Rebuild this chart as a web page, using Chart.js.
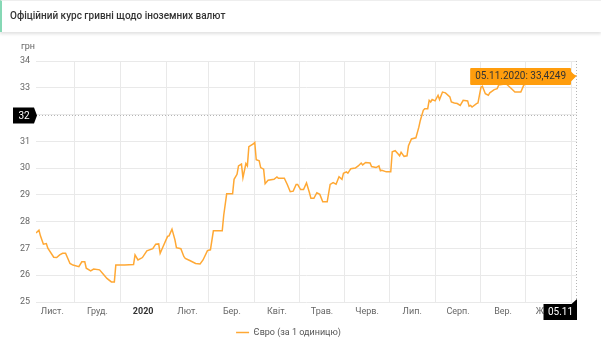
<!DOCTYPE html>
<html lang="uk">
<head>
  <meta charset="UTF-8">
  <title>Офіційний курс гривні щодо іноземних валют</title>
  <script src="https://cdn.jsdelivr.net/npm/chart.js"></script>
  <style>
    body {
      margin: 0;
      width: 601px;
      height: 350px;
      background: #fff;
      font-family: 'Roboto', sans-serif;
      position: relative;
      overflow: hidden;
    }
    .header {
      position: absolute;
      top: 0;
      left: 0;
      width: 599px;
      height: 31px;
      border-left: 2px solid #86d8b5;
      border-top: 1px solid #eee;
      box-shadow: 0 2px 3px rgba(0, 0, 0, 0.12);
      background: #fff;
      z-index: 2;
    }
    .header h1 {
      margin: 0;
      padding: 9px 0 0 8px;
      font-size: 10px;
      font-weight: 500;
      color: #333;
    }
    #rateChart {
      position: absolute;
      top: 0;
      left: 0;
    }
  </style>
</head>
<body>
  <div class="header"><h1>Офіційний курс гривні щодо іноземних валют</h1></div>
  <canvas id="rateChart" width="601" height="350"></canvas>

  <script>
    // дні від 05.11.2019 і курс євро
    const days = [0, 2, 3, 5, 7, 8, 12, 14, 16, 18, 20, 23, 25, 29, 31, 33, 34, 37, 39, 43,
      46, 48, 51, 53, 54, 60, 66, 67, 69, 72, 75, 79, 81, 83, 84, 86, 89, 90, 92, 94,
      95, 98, 100, 101, 104, 108, 111, 113, 116, 118, 120, 126, 127, 129, 133, 134, 136, 137, 139, 140,
      142, 143, 144, 147, 148, 149, 151, 152, 154, 155, 157, 161, 163, 164, 168, 170, 172, 174, 176, 177,
      179, 181, 183, 185, 186, 188, 190, 192, 194, 197, 199, 201, 203, 205, 207, 208, 210, 211, 213, 216,
      218, 220, 221, 223, 226, 227, 230, 232, 233, 234, 237, 240, 241, 243, 245, 246, 247, 249, 251, 252,
      254, 257, 259, 260, 262, 263, 265, 266, 267, 268, 270, 272, 273, 275, 277, 280, 281, 283, 285, 287,
      289, 292, 293, 294, 295, 298, 299, 301, 302, 304, 306, 307, 310, 312, 313, 318, 321, 324, 328, 330,
      335, 342, 348, 355, 362, 366];
    const rates = [27.58, 27.68, 27.47, 27.16, 27.18, 27.01, 26.67, 26.66, 26.76, 26.82, 26.82, 26.44, 26.38, 26.32, 26.5, 26.5, 26.26, 26.16, 26.23, 26.2,
      26.01, 25.88, 25.75, 25.75, 26.38, 26.38, 26.4, 26.76, 26.57, 26.66, 26.91, 26.99, 27.16, 27.17, 26.82, 27.07, 27.45, 27.47, 27.72, 27.32,
      27.03, 26.99, 26.7, 26.63, 26.55, 26.44, 26.42, 26.57, 26.92, 26.95, 27.66, 27.66, 28.24, 29.04, 29.04, 29.58, 29.77, 30.08, 30.15, 29.64,
      30.17, 30.08, 30.8, 30.9, 30.96, 30.31, 30.27, 30.02, 29.96, 29.42, 29.55, 29.58, 29.67, 29.62, 29.62, 29.39, 29.12, 29.14, 29.39, 29.39,
      29.2, 29.2, 29.45, 29.08, 28.87, 28.87, 29.08, 29.02, 28.74, 28.74, 29.39, 29.46, 29.4, 29.68, 29.58, 29.81, 29.86, 29.81, 29.98, 30.0,
      30.08, 30.19, 30.12, 30.21, 30.19, 30.06, 30.02, 30.08, 29.9, 29.92, 29.86, 29.86, 30.61, 30.65, 30.53, 30.46, 30.59, 30.44, 30.46, 30.84,
      31.09, 31.13, 31.53, 31.78, 32.16, 32.22, 32.22, 32.53, 32.47, 32.56, 32.51, 32.72, 32.56, 32.84, 32.81, 32.66, 32.47, 32.43, 32.41, 32.34,
      32.53, 32.51, 32.31, 32.34, 32.28, 32.41, 32.43, 33.01, 33.06, 32.78, 32.72, 32.81, 32.93, 32.97, 33.1, 33.15, 33.0, 32.84, 32.84, 33.1,
      33.3, 33.45, 33.5, 33.55, 33.5, 33.4249];

    // межі місяців (дні від 05.11.2019) і підписи місяців
    const monthStarts = [-4, 26, 57, 88, 117, 148, 178, 209, 239, 270, 301, 331, 362, 392];
    const monthLabels = ['Лист.', 'Груд.', '2020', 'Лют.', 'Бер.', 'Квіт.', 'Трав.', 'Черв.', 'Лип.', 'Серп.', 'Вер.', 'Жовт.'];
    const yMin = 25;
    const yMax = 34;
    const crossValue = 32;
    const startDate = new Date(2019, 10, 5);

    const labelPos = monthLabels.map((l, i) => (monthStarts[i] + monthStarts[i + 1]) / 2);
    const lastDay = days[days.length - 1];

    function fmtDate(d, withYear) {
      const dt = new Date(startDate.getFullYear(), startDate.getMonth(), startDate.getDate() + d);
      const dd = String(dt.getDate()).padStart(2, '0');
      const mm = String(dt.getMonth() + 1).padStart(2, '0');
      return withYear ? dd + '.' + mm + '.' + dt.getFullYear() : dd + '.' + mm;
    }

    // хрестик: пунктир + чорні мітки
    const crosshair = {
      id: 'crosshair',
      afterDatasetsDraw(chart) {
        const ctx = chart.ctx;
        const area = chart.chartArea;
        const yy = Math.round(chart.scales.y.getPixelForValue(crossValue)) + 0.5;
        const xx = Math.round(chart.scales.x.getPixelForValue(lastDay)) - 0.5;
        ctx.save();
        ctx.strokeStyle = '#b5b5b5';
        ctx.lineWidth = 1;
        ctx.setLineDash([1, 2]);
        ctx.beginPath();
        ctx.moveTo(area.left, yy);
        ctx.lineTo(area.right, yy);
        ctx.moveTo(xx, area.top);
        ctx.lineTo(xx, area.bottom);
        ctx.stroke();
        ctx.setLineDash([]);

        // мітка на осі Y
        ctx.fillStyle = '#000';
        ctx.beginPath();
        ctx.moveTo(13, yy - 8);
        ctx.lineTo(34, yy - 8);
        ctx.lineTo(37, yy);
        ctx.lineTo(34, yy + 8);
        ctx.lineTo(13, yy + 8);
        ctx.closePath();
        ctx.fill();
        ctx.fillStyle = '#fff';
        ctx.font = '10px Roboto';
        ctx.textAlign = 'center';
        ctx.textBaseline = 'middle';
        ctx.fillText(String(crossValue), 24, yy + 0.5);

        // мітка на осі X
        ctx.fillStyle = '#000';
        ctx.beginPath();
        ctx.moveTo(xx - 33, area.bottom + 2);
        ctx.lineTo(xx - 5, area.bottom + 2);
        ctx.lineTo(xx + 0.5, area.bottom - 3);
        ctx.lineTo(xx + 0.5, area.bottom + 18);
        ctx.lineTo(xx - 33, area.bottom + 18);
        ctx.closePath();
        ctx.fill();
        ctx.fillStyle = '#fff';
        ctx.fillText(fmtDate(lastDay, false), xx - 16, area.bottom + 10.5);

        // одиниця виміру
        ctx.fillStyle = '#666';
        ctx.font = '9px Roboto';
        ctx.textAlign = 'left';
        ctx.fillText('грн', 21, 47);
        ctx.restore();
      }
    };

    const chart = new Chart(document.getElementById('rateChart'), {
      type: 'line',
      data: {
        datasets: [{
          label: 'Євро (за 1 одиницю)',
          data: days.map((d, i) => ({ x: d, y: rates[i] })),
          borderColor: '#ffa834',
          backgroundColor: '#ffa834',
          borderWidth: 1.5,
          pointRadius: 0,
          pointHoverRadius: 0,
          tension: 0,
          fill: false
        }]
      },
      options: {
        responsive: false,
        animation: false,
        events: [],
        layout: { padding: { left: 0, top: 61, right: 24, bottom: 3 } },
        scales: {
          x: {
            type: 'linear',
            min: 0,
            max: lastDay,
            position: 'bottom',
            afterBuildTicks: s => { s.ticks = monthStarts.filter(v => v > 0 && v <= lastDay).map(v => ({ value: v })); },
            afterFit: s => { s.height = 0; },
            ticks: { display: false },
            grid: { color: '#e9e9e9', drawTicks: false },
            border: { display: false }
          },
          x2: {
            type: 'linear',
            min: 0,
            max: lastDay,
            position: 'bottom',
            afterBuildTicks: s => { s.ticks = labelPos.map(v => ({ value: v })); },
            afterFit: s => { s.height = 16; },
            ticks: {
              autoSkip: false,
              maxRotation: 0,
              padding: 4,
              callback: (v, i) => monthLabels[i],
              color: c => (c.index === 2 ? '#333' : '#666'),
              font: c => ({ family: 'Roboto', size: 9, weight: c.index === 2 ? 'bold' : 'normal' })
            },
            grid: { display: false, drawTicks: false },
            border: { display: false }
          },
          y: {
            min: yMin,
            max: yMax,
            afterFit: s => { s.width = 36; },
            ticks: {
              stepSize: 1,
              padding: 6,
              color: '#666',
              font: { family: 'Roboto', size: 9 }
            },
            grid: { color: '#e9e9e9', drawTicks: false },
            border: { display: false }
          }
        },
        plugins: {
          legend: {
            position: 'bottom',
            labels: {
              usePointStyle: true,
              pointStyle: 'line',
              pointStyleWidth: 13,
              color: '#555',
              font: { family: 'Roboto', size: 9 }
            }
          },
          tooltip: {
            enabled: true,
            mode: 'nearest',
            intersect: false,
            xAlign: 'right',
            yAlign: 'center',
            caretSize: 5,
            caretPadding: 1,
            cornerRadius: 1,
            backgroundColor: '#ff9d0d',
            bodyColor: '#333',
            bodyFont: { family: 'Roboto', size: 10 },
            padding: { top: 3, bottom: 2, left: 5, right: 5 },
            displayColors: false,
            callbacks: {
              title: () => '',
              label: c => fmtDate(c.parsed.x, true) + ': ' + c.parsed.y.toFixed(4).replace('.', ',')
            }
          }
        }
      },
      plugins: [crosshair]
    });

    const lastIdx = days.length - 1;
    const pt = chart.getDatasetMeta(0).data[lastIdx];
    chart.tooltip.setActiveElements([{ datasetIndex: 0, index: lastIdx }], { x: pt.x, y: pt.y });
    chart.update();
  </script>
</body>
</html>
